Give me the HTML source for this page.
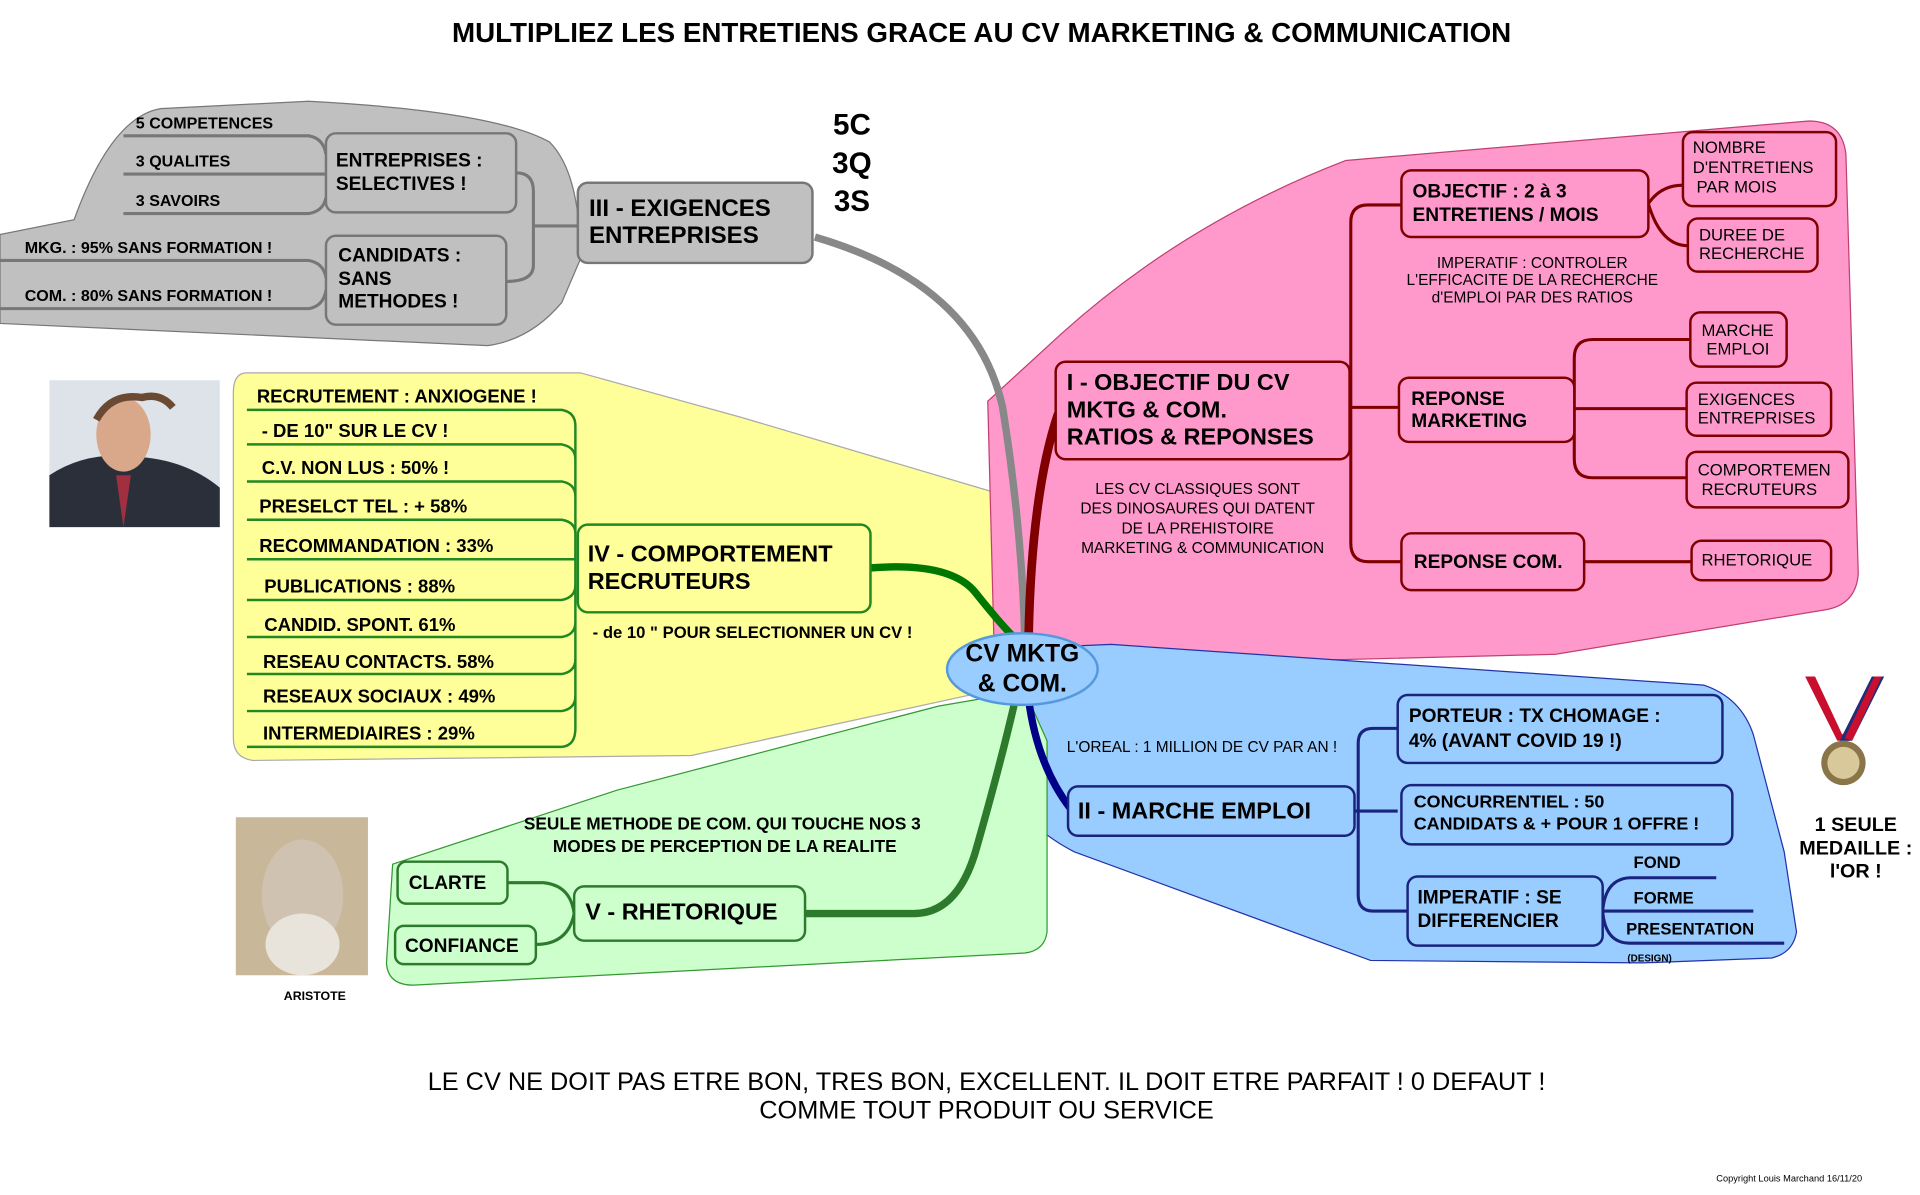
<!DOCTYPE html>
<html><head><meta charset="utf-8"><style>
html,body{margin:0;padding:0;background:#fff;}
svg{display:block;}
text{font-family:"Liberation Sans",sans-serif;}
.b{font-weight:bold;}
.t{font-weight:bold;}
</style></head><body>
<svg width="1920" height="1195" viewBox="0 0 1555 968" preserveAspectRatio="none" xmlns="http://www.w3.org/2000/svg">
<rect width="1555" height="968" fill="#fff"/>
<text x="795" y="34" text-anchor="middle" class="t" font-size="22.5">MULTIPLIEZ LES ENTRETIENS GRACE AU CV MARKETING &amp; COMMUNICATION</text>

<path d="M0,262 L0,190 L60,178 Q90,95 130,88 L250,82 Q400,90 445,115 Q470,140 470,210 L455,245 Q430,275 395,280 Z" fill="#c0c0c0" stroke="#777" stroke-width="1"/>
<path d="M200,302 L470,302 L600,338 L843,410 L850,505 L790,562 L560,612 L205,616 Q189,614 189,598 L189,318 Q189,302 200,302 Z" fill="#ffff99" stroke="#aaa" stroke-width="1"/>
<path d="M800,325 L860,270 Q960,180 1090,130 L1465,98 Q1492,98 1495,125 L1505,465 Q1503,490 1478,494 L1260,530 L855,540 L805,520 Z" fill="#ff99cc" stroke="#c04070" stroke-width="1"/>
<path d="M830,525 L900,522 L1380,555 Q1410,565 1420,595 L1445,690 L1455,755 Q1452,772 1435,776 L1330,780 L1110,778 L870,690 Q822,665 818,630 L818,560 Z" fill="#99ccff" stroke="#2233aa" stroke-width="1"/>
<path d="M318,700 L500,640 L760,572 L830,560 L848,600 L848,755 Q846,770 830,772 L335,798 Q314,798 313,780 Z" fill="#ccffcc" stroke="#339933" stroke-width="1"/>

<path d="M660,192 Q790,230 812,330 Q828,430 830,520" fill="none" stroke="#888" stroke-width="6"/>
<path d="M833,520 Q835,400 857,335" fill="none" stroke="#800000" stroke-width="7"/>
<path d="M705,460 Q770,455 790,480 Q810,505 820,515" fill="none" stroke="#007700" stroke-width="6"/>
<path d="M833,566 Q840,620 867,655" fill="none" stroke="#000088" stroke-width="6"/>
<path d="M822,568 Q810,620 790,690 Q775,740 740,740 L652,740" fill="none" stroke="#2d7a2d" stroke-width="6"/>

<ellipse cx="828" cy="542" rx="61" ry="29" fill="#99ccff" stroke="#5599dd" stroke-width="2"/>
<text x="828" y="536" text-anchor="middle" class="b" font-size="20">CV MKTG</text>
<text x="828" y="560" text-anchor="middle" class="b" font-size="20">&amp; COM.</text>

<g class="t" font-size="24" text-anchor="middle"><text x="690" y="109">5C</text><text x="690" y="140">3Q</text><text x="690" y="171">3S</text></g>

<g fill="none" stroke="#777" stroke-width="2.5">
<path d="M100,110 L250,110 Q262,112 264,125"/><path d="M100,141 L264,141"/><path d="M100,173 L250,173 Q262,171 264,160"/>
<path d="M0,211 L250,211 Q262,213 264,225"/><path d="M0,250 L250,250 Q262,248 264,235"/>
<path d="M418,140 Q432,140 432,155 L432,215 Q432,228 410,228"/><path d="M432,183 L468,183"/>
</g>
<g font-size="13" class="b"><text x="110" y="104">5 COMPETENCES</text><text x="110" y="135">3 QUALITES</text><text x="110" y="167">3 SAVOIRS</text>
<text x="20" y="205">MKG. : 95% SANS FORMATION !</text><text x="20" y="244">COM. : 80% SANS FORMATION !</text></g>
<g fill="#c0c0c0" stroke="#777" stroke-width="2">
<rect x="264" y="108" width="154" height="64" rx="8"/><rect x="264" y="191" width="146" height="72" rx="8"/><rect x="468" y="148" width="190" height="65" rx="8"/></g>
<g class="b" font-size="15.5"><text x="272" y="135">ENTREPRISES :</text><text x="272" y="154">SELECTIVES !</text>
<text x="274" y="212">CANDIDATS :</text><text x="274" y="231">SANS</text><text x="274" y="249">METHODES !</text></g>
<g class="b" font-size="19.5"><text x="477" y="175">III - EXIGENCES</text><text x="477" y="197">ENTREPRISES</text></g>

<g fill="none" stroke="#228822" stroke-width="2">
<path d="M200,332 L455,332 Q466,334 466,345 L466,590 Q466,604 455,605 L200,605"/>
<path d="M200,360 L455,360 Q466,362 466,372"/><path d="M200,390 L455,390 Q466,392 466,402"/>
<path d="M200,421 L455,421 Q466,423 466,432"/><path d="M200,453 L466,453"/><path d="M200,486 L455,486 Q466,484 466,474"/>
<path d="M200,516 L455,516 Q466,514 466,504"/><path d="M200,546 L455,546 Q466,544 466,534"/><path d="M200,576 L455,576 Q466,574 466,564"/>
</g>
<g class="b" font-size="15"><text x="208" y="326">RECRUTEMENT : ANXIOGENE !</text><text x="212" y="354">- DE 10" SUR LE CV !</text>
<text x="212" y="384">C.V. NON LUS : 50% !</text><text x="210" y="415">PRESELCT TEL : + 58%</text>
<text x="210" y="447">RECOMMANDATION : 33%</text><text x="214" y="480">PUBLICATIONS : 88%</text>
<text x="214" y="511">CANDID. SPONT. 61%</text><text x="213" y="541">RESEAU CONTACTS. 58%</text>
<text x="213" y="569">RESEAUX SOCIAUX : 49%</text><text x="213" y="599">INTERMEDIAIRES : 29%</text></g>
<rect x="468" y="425" width="237" height="71" rx="8" fill="#ffff99" stroke="#228822" stroke-width="2"/>
<g class="b" font-size="19"><text x="476" y="455">IV - COMPORTEMENT</text><text x="476" y="477">RECRUTEURS</text></g>
<text x="480" y="517" class="t" font-size="13.5">- de 10 " POUR SELECTIONNER UN CV !</text>

<rect x="40" y="308" width="138" height="119" fill="#dde3e8"/>
<path d="M40,427 L40,385 Q70,365 110,370 Q150,372 178,395 L178,427 Z" fill="#2a2f3a"/>
<ellipse cx="100" cy="352" rx="22" ry="30" fill="#d9a88a"/>
<path d="M78,340 Q90,318 115,322 Q130,318 140,330" fill="none" stroke="#6b4a33" stroke-width="6"/>
<path d="M94,385 L100,427 L106,385 Z" fill="#a03040"/>

<g fill="none" stroke="#800000" stroke-width="2.5">
<path d="M1093,330 L1135,330"/>
<path d="M1135,166 L1108,166 Q1094,166 1094,180 L1094,440 Q1094,455 1108,455 L1135,455"/>
<path d="M1335,165 Q1345,150 1363,150"/><path d="M1335,165 Q1345,199 1367,199"/>
<path d="M1275,331 L1366,331"/><path d="M1275,331 L1275,290 Q1275,275 1290,275 L1369,275"/><path d="M1275,331 L1275,372 Q1275,387 1290,387 L1366,387"/>
<path d="M1283,455 L1370,455"/>
</g>
<g fill="#ff99cc" stroke="#800000" stroke-width="2">
<rect x="855" y="293" width="238" height="79" rx="8"/><rect x="1135" y="138" width="200" height="54" rx="8"/>
<rect x="1133" y="306" width="142" height="52" rx="8"/><rect x="1135" y="432" width="148" height="46" rx="8"/>
<rect x="1363" y="107" width="124" height="60" rx="8"/><rect x="1367" y="177" width="105" height="43" rx="8"/>
<rect x="1369" y="253" width="78" height="44" rx="8"/><rect x="1366" y="310" width="117" height="43" rx="8"/>
<rect x="1366" y="366" width="131" height="45" rx="8"/><rect x="1370" y="438" width="113" height="32" rx="8"/></g>
<g class="b" font-size="19"><text x="864" y="316">I - OBJECTIF DU CV</text><text x="864" y="338">MKTG &amp; COM.</text><text x="864" y="360">RATIOS &amp; REPONSES</text></g>
<g class="b" font-size="15.5"><text x="1144" y="160">OBJECTIF : 2 à 3</text><text x="1144" y="179">ENTRETIENS / MOIS</text>
<text x="1143" y="328">REPONSE</text><text x="1143" y="346">MARKETING</text><text x="1145" y="460">REPONSE COM.</text></g>
<g font-size="13.5"><text x="1371" y="124">NOMBRE</text><text x="1371" y="140">D'ENTRETIENS</text><text x="1374" y="156">PAR MOIS</text>
<text x="1376" y="195">DUREE DE</text><text x="1376" y="210">RECHERCHE</text><text x="1378" y="272">MARCHE</text><text x="1382" y="287">EMPLOI</text>
<text x="1375" y="328">EXIGENCES</text><text x="1375" y="343">ENTREPRISES</text><text x="1375" y="385">COMPORTEMEN</text><text x="1378" y="401">RECRUTEURS</text>
<text x="1378" y="458">RHETORIQUE</text></g>
<g font-size="12.5" text-anchor="middle"><text x="1241" y="217">IMPERATIF : CONTROLER</text><text x="1241" y="231">L'EFFICACITE DE LA RECHERCHE</text><text x="1241" y="245">d'EMPLOI PAR DES RATIOS</text>
<text x="970" y="400">LES CV CLASSIQUES SONT</text><text x="970" y="416">DES DINOSAURES QUI DATENT</text><text x="970" y="432">DE LA PREHISTOIRE</text><text x="974" y="448">MARKETING &amp; COMMUNICATION</text></g>

<g fill="none" stroke="#1a237e" stroke-width="2.5">
<path d="M1097,657 L1132,657"/><path d="M1132,590 L1112,590 Q1100,590 1100,602 L1100,725 Q1100,738 1112,738 L1140,738"/>
<path d="M1298,738 L1330,738 L1420,738"/><path d="M1298,738 Q1300,712 1320,711 L1390,711"/><path d="M1298,738 Q1300,764 1320,764 L1445,764"/>
</g>
<g fill="#99ccff" stroke="#1a237e" stroke-width="2">
<rect x="865" y="637" width="232" height="40" rx="8"/><rect x="1132" y="563" width="263" height="55" rx="8"/>
<rect x="1135" y="636" width="268" height="48" rx="8"/><rect x="1140" y="710" width="158" height="56" rx="8"/></g>
<text x="873" y="663" class="b" font-size="19">II - MARCHE EMPLOI</text>
<g class="b" font-size="15.5"><text x="1141" y="585">PORTEUR : TX CHOMAGE :</text><text x="1141" y="605">4% (AVANT COVID 19 !)</text>
<text x="1148" y="732">IMPERATIF : SE</text><text x="1148" y="751">DIFFERENCIER</text></g>
<g class="t" font-size="14.5"><text x="1145" y="654">CONCURRENTIEL : 50</text><text x="1145" y="672">CANDIDATS &amp; + POUR 1 OFFRE !</text></g>
<g class="b" font-size="13.5"><text x="1323" y="703">FOND</text><text x="1323" y="732">FORME</text><text x="1317" y="757">PRESENTATION</text></g>
<text x="1318" y="779" font-size="8" class="t">(DESIGN)</text>
<text x="864" y="609" font-size="12.5">L'OREAL : 1 MILLION DE CV PAR AN !</text>

<path d="M1462,548 L1488,600 L1498,600 L1472,548 Z" fill="#c8102e"/><path d="M1470,548 L1492,595 L1498,590 L1478,548 Z" fill="#fff"/>
<path d="M1526,548 L1500,600 L1490,600 L1516,548 Z" fill="#1f2d7a"/><path d="M1518,548 L1494,598 L1500,600 L1524,548 Z" fill="#c8102e"/>
<circle cx="1493" cy="618" r="18" fill="#8a7548"/><circle cx="1493" cy="618" r="13" fill="#d8c89a"/>
<g class="t" font-size="16" text-anchor="middle"><text x="1503" y="673">1 SEULE</text><text x="1503" y="692">MEDAILLE :</text><text x="1503" y="711">l'OR !</text></g>

<g fill="none" stroke="#2d7a2d" stroke-width="2.5">
<path d="M411,715 L440,715 Q462,717 465,740"/><path d="M434,765 Q460,765 465,740"/></g>
<g fill="#ccffcc" stroke="#2d7a2d" stroke-width="2">
<rect x="465" y="718" width="187" height="44" rx="8"/><rect x="322" y="698" width="89" height="34" rx="7"/><rect x="320" y="750" width="114" height="31" rx="7"/></g>
<text x="474" y="745" class="b" font-size="19">V - RHETORIQUE</text>
<g class="b" font-size="15.5"><text x="331" y="720">CLARTE</text><text x="328" y="771">CONFIANCE</text></g>
<g class="t" font-size="14" text-anchor="middle"><text x="585" y="672">SEULE METHODE DE COM. QUI TOUCHE NOS 3</text><text x="587" y="690">MODES DE PERCEPTION DE LA REALITE</text></g>

<rect x="191" y="662" width="107" height="128" fill="#c9b79a"/>
<ellipse cx="245" cy="725" rx="33" ry="45" fill="#cfc2b0"/>
<ellipse cx="245" cy="765" rx="30" ry="25" fill="#e8e4dc"/>
<text x="255" y="810" text-anchor="middle" class="t" font-size="10">ARISTOTE</text>

<g font-size="20.5" text-anchor="middle"><text x="799" y="883">LE CV NE DOIT PAS ETRE BON, TRES BON, EXCELLENT. IL DOIT ETRE PARFAIT ! 0 DEFAUT !</text><text x="799" y="906">COMME TOUT PRODUIT OU SERVICE</text></g>
<text x="1390" y="957" font-size="7.5">Copyright Louis Marchand 16/11/20</text>
</svg>
</body></html>
